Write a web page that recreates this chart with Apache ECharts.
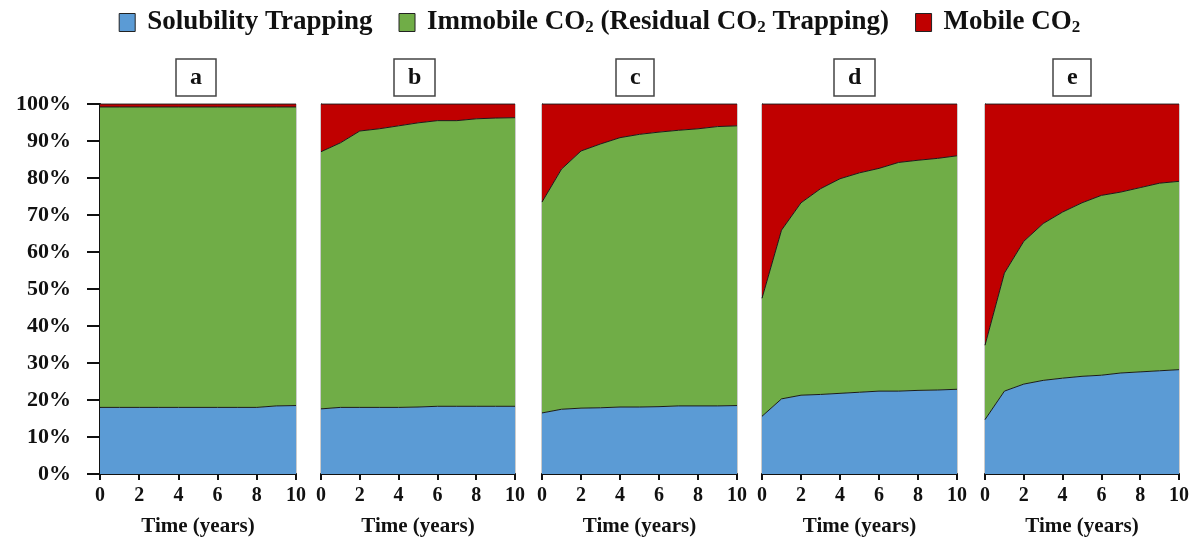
<!DOCTYPE html>
<html>
<head>
<meta charset="utf-8">
<script src="https://cdn.jsdelivr.net/npm/echarts@6/dist/echarts.min.js"></script>
<style>html,body{margin:0;padding:0;background:#fff}#c{width:1199px;height:542px}</style>
</head>
<body>
<div id="c"></div>
<script>
// Time axis (years)
const years = ['0','1','2','3','4','5','6','7','8','9','10'];
const panelLabels = ['a','b','c','d','e'];
const yTickLabels = ['0%','10%','20%','30%','40%','50%','60%','70%','80%','90%','100%'];
const seriesNames = ['Solubility Trapping','Immobile CO2 (Residual CO2 Trapping)','Mobile CO2'];

// Solubility trapping (%) per panel
const solA = [18.0,18.0,18.0,18.0,18.0,18.0,18.0,18.0,18.0,18.4,18.5];
const solB = [17.6,18.0,18.0,18.0,18.0,18.1,18.3,18.3,18.3,18.3,18.3];
const solC = [16.5,17.5,17.8,17.9,18.1,18.1,18.2,18.4,18.4,18.4,18.5];
const solD = [15.6,20.3,21.3,21.5,21.8,22.1,22.4,22.4,22.6,22.7,22.9];
const solE = [14.7,22.4,24.3,25.3,25.9,26.4,26.7,27.3,27.6,27.9,28.2];

// Immobile CO2 (residual trapping) (%) per panel
const immA = [81.2,81.2,81.2,81.2,81.2,81.2,81.2,81.2,81.2,80.8,80.7];
const immB = [69.5,71.5,74.7,75.3,76.1,76.8,77.2,77.2,77.7,77.9,78.0];
const immC = [57.0,64.9,69.5,71.3,72.8,73.7,74.2,74.5,74.9,75.5,75.6];
const immD = [31.9,45.6,52.0,55.6,58.0,59.3,60.2,61.8,62.2,62.6,63.1];
const immE = [20.1,31.9,38.6,42.4,44.9,46.9,48.6,48.9,49.8,50.7,50.9];

// Mobile CO2 (%) per panel
const mobA = [0.8,0.8,0.8,0.8,0.8,0.8,0.8,0.8,0.8,0.8,0.8];
const mobB = [12.9,10.5,7.3,6.7,5.9,5.1,4.5,4.5,4.0,3.8,3.7];
const mobC = [26.5,17.6,12.7,10.8,9.1,8.2,7.6,7.1,6.7,6.1,5.9];
const mobD = [52.5,34.1,26.7,22.9,20.2,18.6,17.4,15.8,15.2,14.7,14.0];
const mobE = [65.2,45.7,37.1,32.3,29.2,26.7,24.7,23.8,22.6,21.4,20.9];

const solAll = [solA,solB,solC,solD,solE];
const immAll = [immA,immB,immC,immD,immE];
const mobAll = [mobA,mobB,mobC,mobD,mobE];

const colors = ['#5B9BD5','#70AD47','#C00000'];
const gridLefts = [100,321,542,762,985];
const gridWidths = [196,194,195,195,194];
const boxLefts = [176,394,616,834,1053];
const serif = '"Liberation Serif","DejaVu Serif",serif';

const grids = [], xAxes = [], yAxes = [], series = [], titles = [];
for (let i = 0; i < 5; i++) {
  grids.push({left: gridLefts[i], width: gridWidths[i], top: 104, bottom: 67,
    show: true, borderColor: '#999', borderWidth: 1, containLabel: false});
  xAxes.push({type: 'category', gridIndex: i, data: years, boundaryGap: false,
    name: 'Time (years)', nameLocation: 'middle', nameGap: 42,
    nameTextStyle: {fontFamily: serif, fontWeight: 'bold', fontSize: 21, color: '#111'},
    axisLine: {show: true, onZero: false, lineStyle: {color: '#111', width: 2}},
    axisTick: {show: true, length: 6, interval: 1, lineStyle: {color: '#111', width: 2}},
    axisLabel: {fontFamily: serif, fontWeight: 'bold', fontSize: 20, color: '#111', margin: 12, interval: 1},
    splitLine: {show: false}});
  yAxes.push({type: 'value', gridIndex: i, min: 0, max: 100, interval: 10,
    axisLine: {show: true, lineStyle: {color: '#111', width: i === 0 ? 2 : 1}},
    axisTick: {show: i === 0, length: 13, lineStyle: {color: '#111', width: 2}},
    axisLabel: {show: i === 0, fontFamily: serif, fontWeight: 'bold', fontSize: 22, color: '#111', margin: 29,
      formatter: v => yTickLabels[Math.round(v / 10)]},
    splitLine: {show: false}});
  const datas = [solAll[i], immAll[i], mobAll[i]];
  for (let s = 0; s < 3; s++) {
    series.push({type: 'line', name: seriesNames[s], xAxisIndex: i, yAxisIndex: i,
      stack: 'p' + i, showSymbol: false, symbol: 'none', smooth: false,
      lineStyle: {color: '#1a1a1a', width: 1},
      itemStyle: {color: colors[s], borderColor: '#222', borderWidth: 1},
      areaStyle: {color: colors[s], opacity: 1},
      data: datas[s]});
  }
  titles.push({text: panelLabels[i], left: boxLefts[i], top: 59,
    borderColor: '#444', borderWidth: 1.5, padding: [6, 14, 6, 14],
    textStyle: {fontFamily: serif, fontWeight: 'bold', fontSize: 24, color: '#111', lineHeight: 25}});
}

const legendFmt = name => {
  if (name === seriesNames[1]) return 'Immobile CO{sub|2} (Residual CO{sub|2} Trapping)';
  if (name === seriesNames[2]) return 'Mobile CO{sub|2}';
  return name;
};

const chart = echarts.init(document.getElementById('c'), null, {renderer: 'canvas'});
chart.setOption({
  animation: false,
  backgroundColor: '#fff',
  title: titles,
  legend: {
    top: 4, left: 'center', itemGap: 26, itemWidth: 16, itemHeight: 18,
    data: seriesNames.map((n, k) => ({name: n, icon: 'rect',
      itemStyle: {color: colors[k], borderColor: '#222', borderWidth: 1}})),
    formatter: legendFmt,
    textStyle: {fontFamily: serif, fontWeight: 'bold', fontSize: 27, color: '#111', padding: [0,0,0,7],
      rich: {sub: {fontFamily: serif, fontWeight: 'bold', fontSize: 17, color: '#111', verticalAlign: 'bottom', padding: [10,0,0,0]}}}
  },
  grid: grids, xAxis: xAxes, yAxis: yAxes, series: series
});
</script>
</body>
</html>
